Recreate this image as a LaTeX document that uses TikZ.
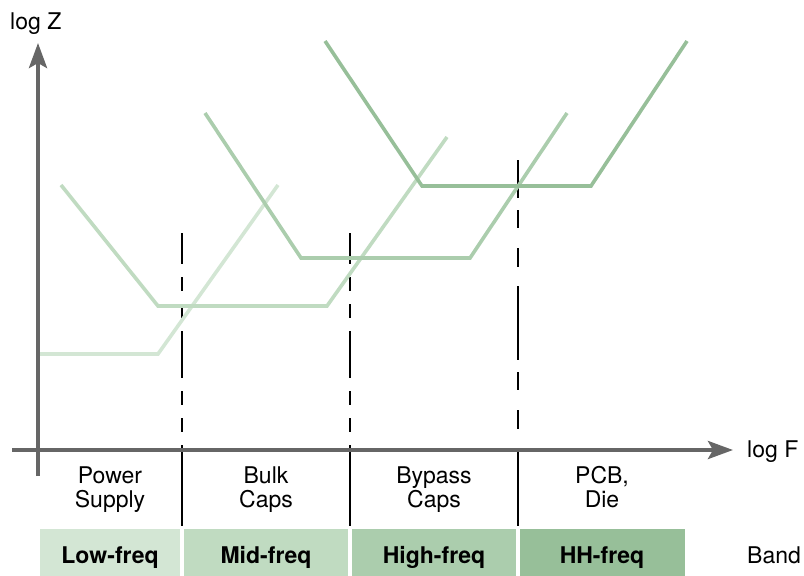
\documentclass[tikz,border=0pt]{standalone}
\usepackage{fontspec}
\setmainfont{TeX Gyre Heros}
\usetikzlibrary{arrows.meta}
\definecolor{cone}{HTML}{D3E6D4}
\definecolor{ctwo}{HTML}{C0DBC1}
\definecolor{cthree}{HTML}{ABCDAD}
\definecolor{cfour}{HTML}{97BF99}
\definecolor{axisgray}{HTML}{666666}
\begin{document}
\begin{tikzpicture}[x=1pt,y=-1pt,
  axisline/.style={draw=axisgray,line width=4pt,-{Stealth[length=25pt,width=18pt,inset=5pt]}},
  curve/.style={line width=3.6pt},
  guide/.style={draw=black,line width=2pt},
  lbl/.style={font=\fontsize{23}{24}\selectfont,align=center,anchor=base,inner sep=0pt},
  bandbox/.style={rectangle,inner sep=0pt,minimum width=140pt,minimum height=47pt,
    text height=21pt,text depth=0pt,font=\fontsize{23}{24}\selectfont\bfseries}]
\useasboundingbox (0,0) rectangle (804,576);
% guide lines
\coordinate (g1t) at (182,233); \coordinate (g1m) at (182,450); \coordinate (g1b) at (182,526);
\coordinate (g2t) at (350,233); \coordinate (g2m) at (350,450); \coordinate (g2b) at (350,526);
\coordinate (g3t) at (518,160); \coordinate (g3m) at (518,450); \coordinate (g3b) at (518,526);
\draw[guide,dash pattern=on 47pt off 13pt on 14pt off 13pt on 14pt off 13pt,dash phase=16pt] (g1t) -- (g1m);
\draw[guide,dash pattern=on 47pt off 13pt on 14pt off 13pt on 14pt off 13pt,dash phase=16pt] (g2t) -- (g2m);
\draw[guide,dash pattern=on 74pt off 12pt on 18pt off 20pt on 19pt off 19pt,dash phase=36pt] (g3t) -- (g3m);
\draw[guide] (g1m) -- (g1b);
\draw[guide] (g2m) -- (g2b);
\draw[guide] (g3m) -- (g3b);
% curves
\draw[curve,cone] (40,354) -- (158,354) -- (278,185);
\draw[curve,ctwo] (61,185) -- (158,306) -- (327,306) -- (447,137);
\draw[curve,cthree] (205,113) -- (301,258) -- (470,258) -- (567,113);
\draw[curve,cfour] (325,41) -- (422,186) -- (591,186) -- (687,41);
% axes
\coordinate (yb) at (38,476); \coordinate (yt) at (38,43);
\coordinate (xl) at (12,450); \coordinate (xr) at (733,450);
\draw[axisline] (yb) -- (yt);
\draw[axisline] (xl) -- (xr);
\node[lbl,anchor=base west] (lz) at (10,29) {log Z};
\node[lbl,anchor=base west] (lf) at (747,457) {log F};
% region labels
\node[lbl] (ps) at (110,507) {Power\\Supply};
\node[lbl] (bc) at (266,507) {Bulk\\Caps};
\node[lbl] (yc) at (434,507) {Bypass\\Caps};
\node[lbl] (pd) at (602,507) {PCB,\\Die};
% bands
\node[bandbox,fill=cone] (b1) at (110,552.5) {Low-freq};
\node[bandbox,fill=ctwo,minimum width=164pt] (b2) at (266,552.5) {Mid-freq};
\node[bandbox,fill=cthree,minimum width=164pt] (b3) at (434,552.5) {High-freq};
\node[bandbox,fill=cfour,minimum width=165pt] (b4) at (602,552.5) {HH-freq};
\node[lbl,anchor=base west] (bd) at (747,563) {Band};
\end{tikzpicture}
\end{document}
